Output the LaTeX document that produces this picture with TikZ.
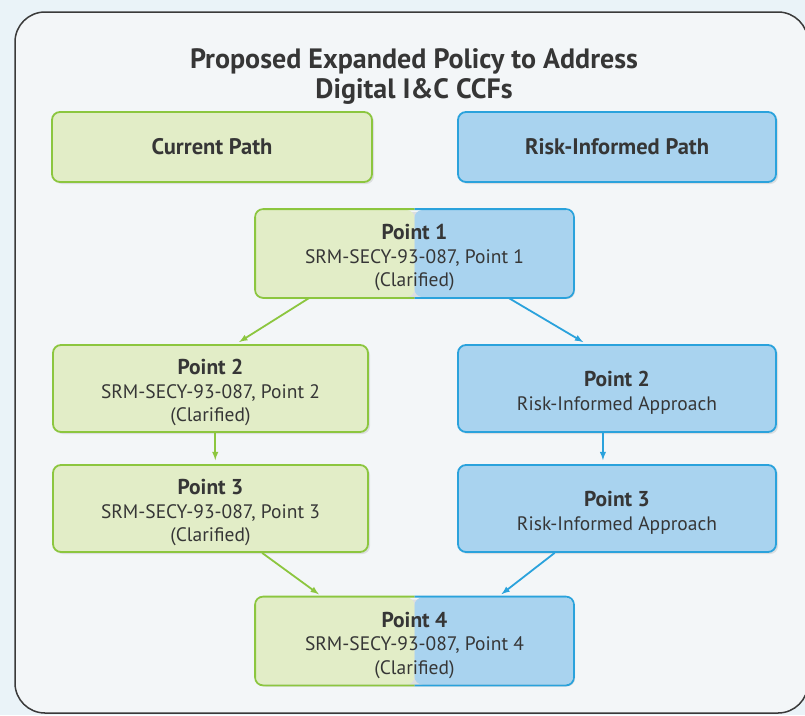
\documentclass[tikz,border=0pt]{standalone}
\usepackage{fontspec}
\setmainfont{PT Sans}
\usetikzlibrary{arrows}
\usetikzlibrary{calc,shadows}

\definecolor{pathgreen}{HTML}{8CC63F}
\definecolor{fillgreen}{HTML}{E2EDC7}
\definecolor{pathblue}{HTML}{2AA2DC}
\definecolor{fillblue}{HTML}{A9D3EF}
\definecolor{textgray}{HTML}{363636}
\definecolor{outerbg}{HTML}{EAF3F8}
\definecolor{innerbg}{HTML}{F3F6F8}
\definecolor{framegray}{HTML}{3A3A3A}

\tikzset{
  box/.style={rounded corners=8pt, line width=1.8pt, inner sep=0pt,
    minimum height=87pt, align=center, text=textgray,
    font=\fontsize{19.5}{23.5}\selectfont,
    drop shadow={shadow xshift=2pt, shadow yshift=-2pt, opacity=0.2}},
  greenbox/.style={box, draw=pathgreen, fill=fillgreen},
  bluebox/.style={box, draw=pathblue, fill=fillblue},
  headbox/.style={minimum height=70pt, font=\fontsize{22.5}{26}\selectfont\bfseries},
  splitbox/.style={box, draw=none, minimum width=317pt,
    path picture={
      \fill[fillgreen] (path picture bounding box.north west) rectangle (path picture bounding box.south);
      \fill[fillblue] (path picture bounding box.north) rectangle (path picture bounding box.south east);
    }},
  garrow/.style={->,>=latex, line width=1.8pt, pathgreen, shorten >=4pt},
  barrow/.style={->,>=latex, line width=1.8pt, pathblue, shorten >=4pt},
}

\newcommand{\pointhead}[1]{\rule{0pt}{24pt}\textbf{\fontsize{21.5}{23.5}\selectfont Point #1}}

\newcommand{\splitborder}[1]{%
  \begin{scope}
    \clip ($(#1.north west)+(-5,-5)$) rectangle ($(#1.south)+(0,5)$);
    \draw[pathgreen, line width=1.8pt, rounded corners=8pt] (#1.north west) rectangle (#1.south east);
  \end{scope}
  \begin{scope}
    \clip ($(#1.north)+(0,-5)$) rectangle ($(#1.south east)+(5,5)$);
    \draw[pathblue, line width=1.8pt, rounded corners=8pt] (#1.north west) rectangle (#1.south east);
  \end{scope}}

\begin{document}
\begin{tikzpicture}[x=1pt, y=-1pt]

% Background and frame
\fill[outerbg] (0,0) rectangle (805,715);
\useasboundingbox (0,0) rectangle (805,715);
\draw[framegray, line width=1.5pt, fill=innerbg, rounded corners=30pt] (15,12) rectangle (808,713);

\node[text=textgray, align=center, font=\fontsize{28}{30}\selectfont\bfseries] (title) at (414,77)
  {Proposed Expanded Policy to Address\\Digital I\&C CCFs};

% Path headers
\node[greenbox, headbox, minimum width=320pt] (cur) at (212,147) {Current Path};
\node[bluebox, headbox, minimum width=318pt] (risk) at (617,147) {Risk-Informed Path};

% Points
\node[splitbox] (p1) at (414.5,253.5) {\pointhead{1}\\SRM-SECY-93-087, Point 1\\(Clarified)};
\splitborder{p1}

\node[greenbox, minimum width=315pt] (p2l) at (210.5,388.5) {\pointhead{2}\\SRM-SECY-93-087, Point 2\\(Clarified)};
\node[bluebox, minimum width=318pt] (p2r) at (617,388.5) {\pointhead{2}\\Risk-Informed Approach};

\node[greenbox, minimum width=315pt] (p3l) at (210.5,508.5) {\pointhead{3}\\SRM-SECY-93-087, Point 3\\(Clarified)};
\node[bluebox, minimum width=318pt] (p3r) at (617,508.5) {\pointhead{3}\\Risk-Informed Approach};

\node[splitbox] (p4) at (414.5,641) {\pointhead{4}\\SRM-SECY-93-087, Point 4\\(Clarified)};
\splitborder{p4}

% Arrows
\draw[garrow] ($(p1.south west)!0.17!(p1.south east)$) -- ($(p2l.north west)!0.58!(p2l.north east)$);
\draw[barrow] ($(p1.south west)!0.795!(p1.south east)$) -- ($(p2r.north west)!0.405!(p2r.north east)$);
\draw[garrow] ($(p2l.south west)!0.515!(p2l.south east)$) -- ($(p3l.north west)!0.515!(p3l.north east)$);
\draw[barrow] ($(p2r.south west)!0.456!(p2r.south east)$) -- ($(p3r.north west)!0.456!(p3r.north east)$);
\draw[garrow] ($(p3l.south west)!0.663!(p3l.south east)$) -- ($(p4.north west)!0.21!(p4.north east)$);
\draw[barrow] ($(p3r.south west)!0.305!(p3r.south east)$) -- ($(p4.north west)!0.763!(p4.north east)$);

\end{tikzpicture}
\end{document}
